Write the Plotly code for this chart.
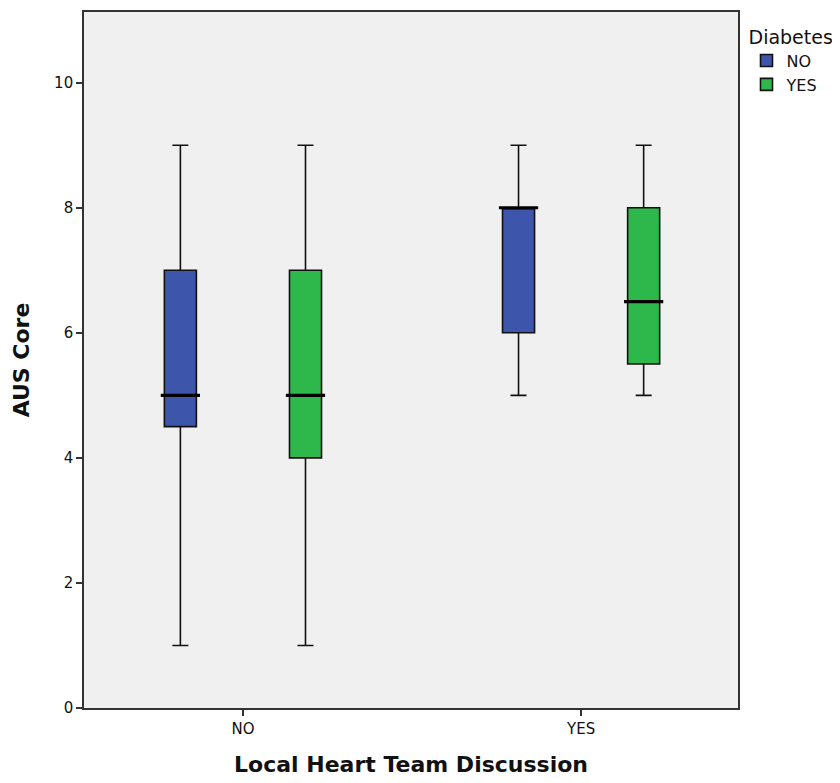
import plotly.graph_objects as go

# Data (SPSS-style boxplot summary statistics)
categories = ["NO", "YES"]          # Local Heart Team Discussion
groups = ["NO", "YES"]              # Diabetes
lower_whisker = {"NO": [1, 5], "YES": [1, 5]}
q1 = {"NO": [4.5, 6], "YES": [4, 5.5]}
median = {"NO": [5, 8], "YES": [5, 6.5]}
q3 = {"NO": [7, 8], "YES": [7, 8]}
upper_whisker = {"NO": [9, 9], "YES": [9, 9]}
y_ticks = [0, 2, 4, 6, 8, 10]

colors = {"NO": "#3D55AB", "YES": "#2EB84B"}
font_family = "DejaVu Sans, Verdana, sans-serif"

fig = go.Figure()
for g in groups:
    fig.add_trace(go.Box(
        name=g,
        x=categories,
        q1=q1[g], median=median[g], q3=q3[g],
        lowerfence=lower_whisker[g], upperfence=upper_whisker[g],
        fillcolor=colors[g],
        line=dict(color="#111111", width=1.6),
        whiskerwidth=0.5,
        boxpoints=False,
        offsetgroup=g,
        alignmentgroup="a",
        hoverinfo="skip",
    ))

# thicker median lines
for g in groups:
    fig.add_trace(go.Scatter(
        x=categories, y=median[g],
        mode="markers",
        marker=dict(symbol="line-ew", size=28,
                    line=dict(color="#000000", width=3.2)),
        offsetgroup=g,
        alignmentgroup="a",
        showlegend=False,
        hoverinfo="skip",
    ))

fig.update_layout(
    width=832, height=775,
    margin=dict(l=76, r=102, t=2, b=75),
    paper_bgcolor="white",
    plot_bgcolor="#F0F0F0",
    boxmode="group",
    boxgap=0.26,
    boxgroupgap=0.744,
    scattermode="group",
    scattergap=0.26,
    font=dict(family=font_family, color="#111111", size=16),
    legend=dict(
        title=dict(text="Diabetes", font=dict(size=19)),
        x=1.013, y=0.99, xanchor="left", yanchor="top",
        font=dict(size=16),
        tracegroupgap=0,
        itemwidth=30,
        bgcolor="rgba(0,0,0,0)",
    ),
    showlegend=True,
)

fig.update_xaxes(
    type="category",
    range=[-0.470, 1.464],
    showline=True, mirror=True, linecolor="#333333", linewidth=1.6,
    ticks="outside", ticklen=6, tickcolor="#333333", tickwidth=1.6,
    showgrid=False, zeroline=False,
    tickfont=dict(size=15),
    title=dict(text="<b>Local Heart Team Discussion</b>", font=dict(size=22), standoff=20),
)
fig.update_yaxes(
    range=[0, 11.13],
    tickvals=y_ticks,
    showline=True, mirror=True, linecolor="#333333", linewidth=1.6,
    ticks="outside", ticklen=6, tickcolor="#333333", tickwidth=1.6,
    showgrid=False, zeroline=False,
    tickfont=dict(size=15),
    title=dict(text="<b>AUS Core</b>", font=dict(size=22), standoff=18),
)

fig.write_html("out.html")
